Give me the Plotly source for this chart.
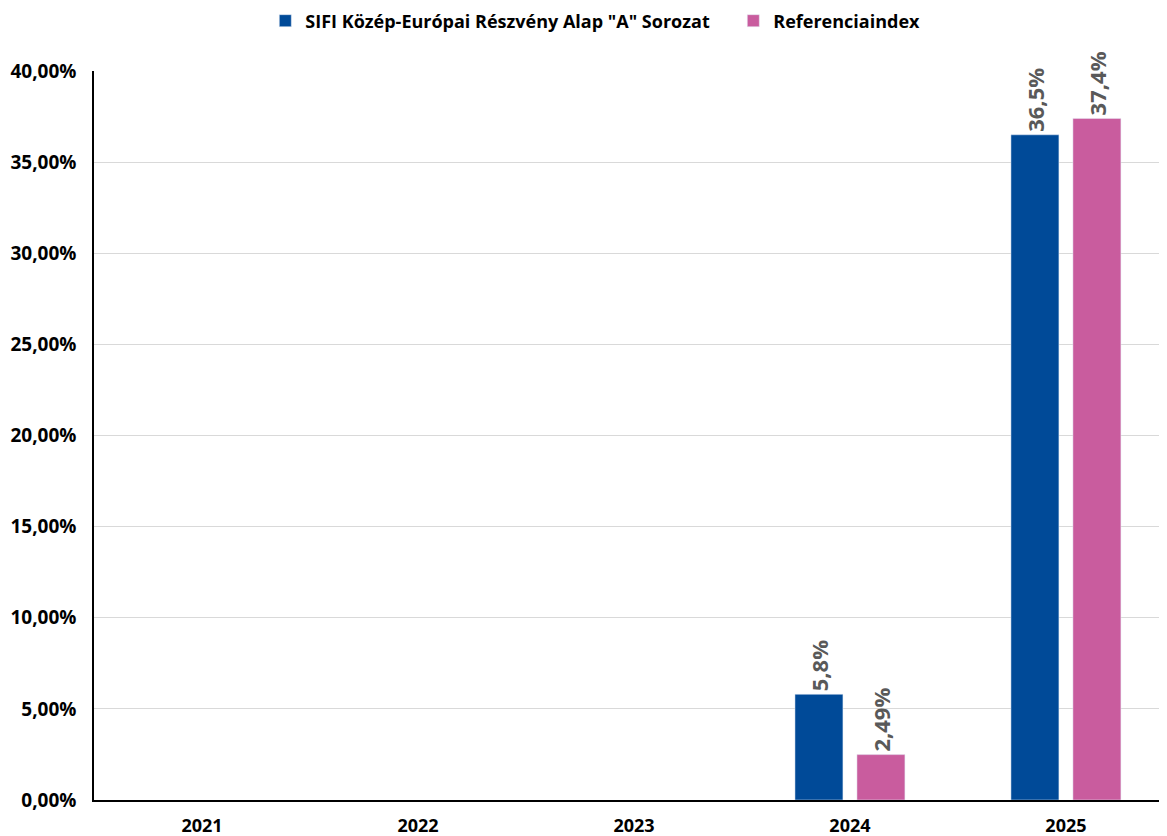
import plotly.graph_objects as go

years = ["2021", "2022", "2023", "2024", "2025"]
fund_name = 'SIFI Közép-Európai Részvény Alap "A" Sorozat'
index_name = "Referenciaindex"
fund_values = [None, None, None, 5.8, 36.5]
index_values = [None, None, None, 2.49, 37.4]
fund_labels = ["", "", "", "5,8%", "36,5%"]
index_labels = ["", "", "", "2,49%", "37,4%"]
y_ticks = [0, 5, 10, 15, 20, 25, 30, 35, 40]
y_tick_labels = ["0,00%", "5,00%", "10,00%", "15,00%", "20,00%", "25,00%", "30,00%", "35,00%", "40,00%"]

FONT = "Open Sans"
label_font = dict(family=FONT, size=22, color="#595959", weight="bold")

fig = go.Figure()
fig.add_trace(go.Bar(
    x=years, y=fund_values, name=fund_name, marker_color="#004A98",
    text=fund_labels, textposition="outside", textangle=-90,
    textfont=label_font, cliponaxis=False, constraintext="none",
))
fig.add_trace(go.Bar(
    x=years, y=index_values, name=index_name, marker_color="#C95C9E",
    text=index_labels, textposition="outside", textangle=-90,
    textfont=label_font, cliponaxis=False, constraintext="none",
))

fig.update_layout(
    width=1159, height=828,
    margin=dict(l=86, r=0, t=63, b=36, autoexpand=False),
    paper_bgcolor="white", plot_bgcolor="white",
    barmode="group", bargap=0.426, bargroupgap=0.226,
    font=dict(family=FONT, size=18, color="black"),
    legend=dict(
        orientation="h", x=0.222, xref="container", xanchor="left",
        y=1.094, yref="paper", yanchor="top",
        font=dict(family=FONT, size=18, color="black", weight="bold"),
        itemwidth=30, traceorder="normal",
        entrywidth=423, entrywidthmode="pixels",
    ),
    uniformtext=dict(mode=False),
)
fig.update_xaxes(
    type="category", range=[-0.5, 4.468],
    showline=True, linecolor="black", linewidth=2,
    ticks="", ticklabelstandoff=8,
    tickfont=dict(family=FONT, size=18, color="black", weight="bold"),
    showgrid=False,
)
fig.update_yaxes(
    range=[0, 40], tickvals=y_ticks, ticktext=y_tick_labels,
    showline=True, linecolor="black", linewidth=1.5,
    showgrid=True, gridcolor="#D9D9D9", gridwidth=1,
    zeroline=False, ticks="", ticklabelstandoff=12,
    tickfont=dict(family=FONT, size=19, color="black", weight="bold"),
)

fig.write_html("out.html")
